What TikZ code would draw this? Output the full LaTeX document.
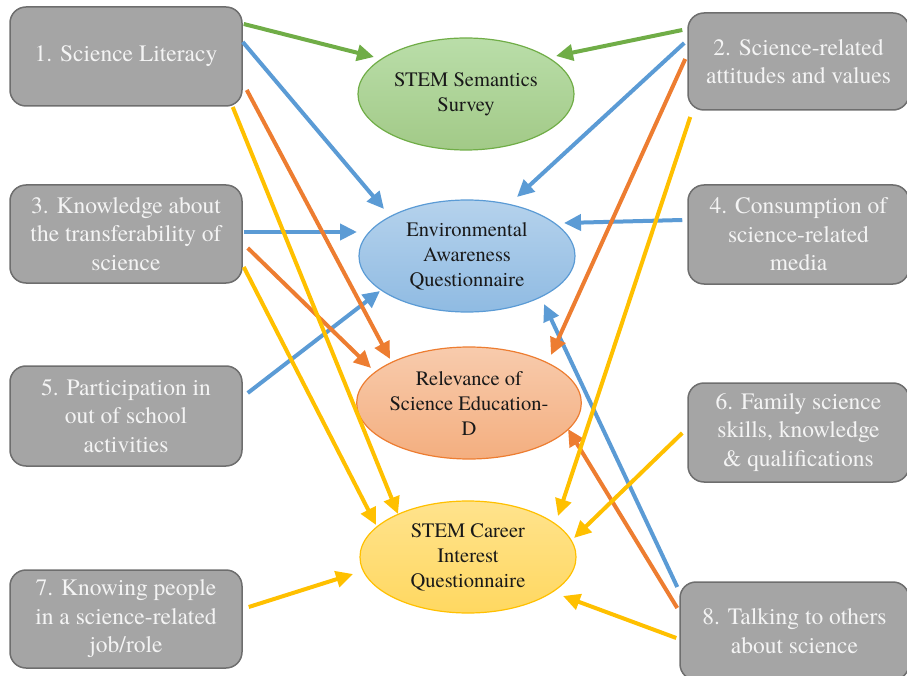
\documentclass[tikz,border=0pt]{standalone}
\usepackage{fontspec}
\setmainfont{texgyretermes}[Extension=.otf, UprightFont=*-regular, BoldFont=*-bold]
\usetikzlibrary{shapes.geometric,arrows.meta,calc}

\definecolor{boxfill}{HTML}{A5A5A5}
\definecolor{boxline}{HTML}{6E6E6E}
\definecolor{boxtext}{HTML}{F4F4F4}
\definecolor{ggreen}{HTML}{70AD47}
\definecolor{gblue}{HTML}{5B9BD5}
\definecolor{gorange}{HTML}{ED7D31}
\definecolor{gyellow}{HTML}{FFC000}

\tikzset{
  factor/.style={draw=boxline, line width=1.5pt, fill=boxfill, rounded corners=16pt,
    text=boxtext, align=center, inner sep=0pt,
    font=\rmfamily\fontsize{23.5}{28.5}\selectfont},
  leftbox/.style={factor, minimum width=232pt},
  instrument/.style={ellipse, line width=1.2pt, align=center, inner sep=0pt,
    minimum width=216pt, minimum height=112pt, text=black!90,
    font=\rmfamily\fontsize{20.5}{25}\selectfont},
  link/.style={line width=4pt, -{Triangle[length=17pt,width=16pt]}},
}

\begin{document}
\begin{tikzpicture}[x=1pt,y=-1pt]
\path[use as bounding box] (0,0) rectangle (907,676);
\clip (0,0) rectangle (907,676);

% questionnaires / instruments
\node[instrument, draw=ggreen, top color=green!10!ggreen!45, bottom color=ggreen!65!white]
  (sem) at (466,94) {STEM Semantics\\Survey};
\node[instrument, draw=gblue, top color=gblue!45!white, bottom color=gblue!68!white]
  (env) at (467,256) {Environmental\\Awareness\\Questionnaire};
\node[instrument, draw=gorange, top color=gorange!40!white, bottom color=gorange!62!white]
  (rel) at (469,403) {Relevance of\\Science Education-\\D};
\node[instrument, draw=gyellow, top color=gyellow!45!white, bottom color=gyellow!62!white]
  (car) at (468,557) {STEM Career\\Interest\\Questionnaire};

% factors on the left
\node[leftbox, minimum height=99pt] (b1) at (126,56.5) {1. Science Literacy};
\node[leftbox, minimum height=98pt] (b3) at (126,234) {3. Knowledge about\\the transferability of\\science};
\node[leftbox, minimum height=100pt] (b5) at (126,416) {5. Participation in\\out of school\\activities};
\node[leftbox, minimum height=98pt] (b7) at (126,619) {7. Knowing people\\in a science-related\\job/role};

% factors on the right
\node[factor, minimum width=221pt, minimum height=97pt] (b2) at (798.5,61.5) {2. Science-related\\attitudes and values};
\node[factor, minimum width=221pt, minimum height=99pt] (b4) at (798.5,234.5) {4. Consumption of\\science-related\\media};
\node[factor, minimum width=221pt, minimum height=99pt] (b6) at (798.5,432.5) {6. Family science\\skills, knowledge\\\& qualifications};
\node[factor, minimum width=229pt, minimum height=98pt] (b8) at (794.5,631) {8. Talking to others\\about science};

% green links
\draw[link, ggreen] ($(b1.east)+(1,-32.5)$) -- ($(sem.center)+(-92,-37)$);
\draw[link, ggreen] ($(b2.west)+(-5,-31.5)$) -- ($(sem.center)+(90,-38)$);

% blue links
\draw[link, gblue] ($(b1.east)+(0,-14.5)$) -- ($(env.center)+(-83,-47)$);
\draw[link, gblue] ($(b3.east)+(1,-2)$) -- ($(env.center)+(-110,-24)$);
\draw[link, gblue] ($(b5.east)+(5,-23)$) -- ($(env.center)+(-87,35)$);
\draw[link, gblue] ($(b2.west)+(-3,-18.5)$) -- ($(env.center)+(50,-59)$);
\draw[link, gblue] ($(b4.west)+(-5,-14.5)$) -- ($(env.center)+(97,-33)$);
\draw[link, gblue] ($(b8.west)+(-2,-44)$) -- ($(env.center)+(77,48)$);

% orange links
\draw[link, gorange] ($(b1.east)+(4,33.5)$) -- ($(rel.center)+(-79,-44)$);
\draw[link, gorange] ($(b3.east)+(5,14)$) -- ($(rel.center)+(-98,-35)$);
\draw[link, gorange] ($(b2.west)+(-2,-2.5)$) -- ($(rel.center)+(82,-48)$);
\draw[link, gorange] ($(b8.west)+(-2,-23)$) -- ($(rel.center)+(99,26)$);

% yellow links
\draw[link, gyellow] ($(b1.east)+(-10,50.5)$) -- ($(car.center)+(-70,-43)$);
\draw[link, gyellow] ($(b3.east)+(1,33)$) -- ($(car.center)+(-92,-32)$);
\draw[link, gyellow] ($(b7.east)+(6,-12)$) -- ($(car.center)+(-115,17)$);
\draw[link, gyellow] ($(b2.west)+(3,55.5)$) -- ($(car.center)+(90,-41)$);
\draw[link, gyellow] ($(b6.west)+(-5,0.5)$) -- ($(car.center)+(106,-19)$);
\draw[link, gyellow] ($(b8.west)+(-3,7)$) -- ($(car.center)+(95,39)$);
\end{tikzpicture}
\end{document}
